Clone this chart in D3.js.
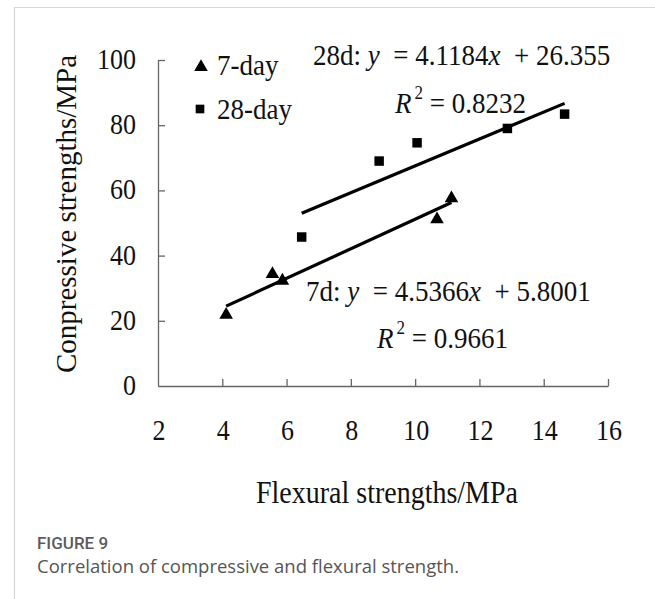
<!DOCTYPE html>
<html>
<head>
<meta charset="utf-8">
<script src="https://cdn.jsdelivr.net/npm/d3@7"></script>
<style>
  html, body { margin: 0; padding: 0; background: #fff; }
  svg { display: block; }
  .serif { font-family: "Liberation Serif", "Times New Roman", serif; fill: #111; }
  .cap { font-family: "Open Sans", "Noto Sans", sans-serif; }
</style>
</head>
<body>
<svg id="chart" width="655" height="599"></svg>
<script>
// Flexural (x, MPa) and compressive (y, MPa) strengths
const day7X  = [4.12, 5.56, 5.87, 10.68, 11.13];
const day7Y  = [21.8, 34.3, 32.3, 51.1, 57.6];
const day28X = [6.47, 8.88, 10.06, 12.87, 14.65];
const day28Y = [45.7, 69.0, 74.6, 79.0, 83.4];

// Linear fits reported for each curing age
const fit7  = { slope: 4.5366, intercept: 5.8001, r2: "0.9661" };
const fit28 = { slope: 4.1184, intercept: 26.355, r2: "0.8232" };

const xTicks = [2, 4, 6, 8, 10, 12, 14, 16];
const yTicks = [0, 20, 40, 60, 80, 100];
const legendLabels = ["7-day", "28-day"];

const svg = d3.select("#chart");
const STRETCH = 1.1; // serif lettering is set slightly tall

// place a serif text with its baseline at (px, py)
function serifText(parent, px, py, size) {
  return parent.append("text").attr("class", "serif").attr("font-size", size)
    .attr("transform", `translate(${px},${py}) scale(1,${STRETCH})`);
}

// page frame
svg.append("line").attr("x1", 14).attr("x2", 655).attr("y1", 7.5).attr("y2", 7.5)
  .attr("stroke", "#d6d6d6").attr("stroke-width", 1.2);
svg.append("line").attr("x1", 14.5).attr("x2", 14.5).attr("y1", 7).attr("y2", 599)
  .attr("stroke", "#d6d6d6").attr("stroke-width", 1.2);

const x = d3.scaleLinear().domain([2, 16]).range([158, 608]);
const y = d3.scaleLinear().domain([0, 100]).range([386, 60]);

const axisColor = "#666";

// x axis with inward ticks
const gx = svg.append("g").attr("transform", `translate(0,${y(0)})`)
  .call(d3.axisBottom(x).tickValues(xTicks).tickSize(-7).tickSizeOuter(0).tickFormat(""));
gx.select(".domain").attr("stroke", axisColor).attr("stroke-width", 1.3);
gx.selectAll(".tick line").attr("stroke", axisColor).attr("stroke-width", 1.3);
gx.selectAll(".tick").filter(d => d === 2).select("line").remove();

// y axis with inward ticks
const gy = svg.append("g").attr("transform", `translate(${x(2)},0)`)
  .call(d3.axisLeft(y).tickValues(yTicks).tickSize(-7).tickSizeOuter(0).tickFormat(""));
gy.select(".domain").attr("stroke", axisColor).attr("stroke-width", 1.3);
gy.selectAll(".tick line").attr("stroke", axisColor).attr("stroke-width", 1.3);
gy.selectAll(".tick").filter(d => d === 0).select("line").remove();

// tick labels
const gxl = svg.append("g");
xTicks.forEach(t => serifText(gxl, x(t) + 1, 440, 26).attr("text-anchor", "middle").text(t));
const gyl = svg.append("g");
yTicks.forEach(t => serifText(gyl, 136, y(t) + 9, 26).attr("text-anchor", "end").text(t));

// axis titles
serifText(svg, 387, 503, 28).attr("text-anchor", "middle").text("Flexural strengths/MPa");
svg.append("text").attr("class", "serif").attr("font-size", 29)
  .attr("text-anchor", "middle")
  .attr("transform", "translate(76,214) rotate(-90)")
  .text("Conpressive strengths/MPa");

// trend lines over each data range
function trend(xs, fit) {
  const x0 = d3.min(xs), x1 = d3.max(xs);
  return [[x0, fit.slope * x0 + fit.intercept], [x1, fit.slope * x1 + fit.intercept]];
}
const lineGen = d3.line().x(d => x(d[0])).y(d => y(d[1]));
svg.append("path").attr("d", lineGen(trend(day28X, fit28)))
  .attr("stroke", "#000").attr("stroke-width", 3.2).attr("fill", "none");
svg.append("path").attr("d", lineGen(trend(day7X, fit7)))
  .attr("stroke", "#000").attr("stroke-width", 3.2).attr("fill", "none");

// markers
const tri = d3.symbol().type(d3.symbolTriangle).size(80);
const sq = d3.symbol().type(d3.symbolSquare).size(90);
svg.append("g").selectAll("path").data(d3.zip(day7X, day7Y)).join("path")
  .attr("d", tri).attr("fill", "#000")
  .attr("transform", d => `translate(${x(d[0])},${y(d[1])})`);
svg.append("g").selectAll("path").data(d3.zip(day28X, day28Y)).join("path")
  .attr("d", sq).attr("fill", "#000")
  .attr("transform", d => `translate(${x(d[0])},${y(d[1])})`);

// legend
const leg = svg.append("g");
leg.append("path").attr("d", tri).attr("fill", "#000").attr("transform", "translate(201,67)");
leg.append("path").attr("d", d3.symbol().type(d3.symbolSquare).size(75)).attr("fill", "#000")
  .attr("transform", "translate(200,109)");
legendLabels.forEach((d, i) => serifText(leg, 217, 75 + i * 44, 27).text(d));

// regression equations
function equation(px, py, label, fit, gap) {
  const t = serifText(svg, px, py, 27).style("white-space", "pre");
  t.append("tspan").text(label + ": ");
  t.append("tspan").attr("font-style", "italic").text("y");
  t.append("tspan").text(gap + "= " + fit.slope.toFixed(4));
  t.append("tspan").attr("font-style", "italic").text("x");
  t.append("tspan").text(gap + "+ " + fit.intercept);
}
function rsq(px, py, fit) {
  const t = serifText(svg, px, py, 27).style("white-space", "pre");
  t.append("tspan").attr("font-style", "italic").text("R");
  t.append("tspan").attr("font-size", 17).attr("dy", -13).attr("dx", 3).text("2");
  t.append("tspan").attr("dy", 13).text(" = " + fit.r2);
}
equation(313, 65, "28d", fit28, "  ");
rsq(395, 113, fit28);
equation(306, 301, "7d", fit7, "  ");
rsq(377, 348, fit7);

// caption
svg.append("text").attr("x", 37).attr("y", 549)
  .attr("font-family", "Roboto, 'Open Sans', sans-serif")
  .attr("font-size", 17).attr("font-weight", 500).attr("fill", "#5c5c5c").text("FIGURE 9");
svg.append("text").attr("class", "cap").attr("x", 37).attr("y", 573)
  .attr("font-size", 18.5).attr("fill", "#555").text("Correlation of compressive and flexural strength.");
</script>
</body>
</html>
